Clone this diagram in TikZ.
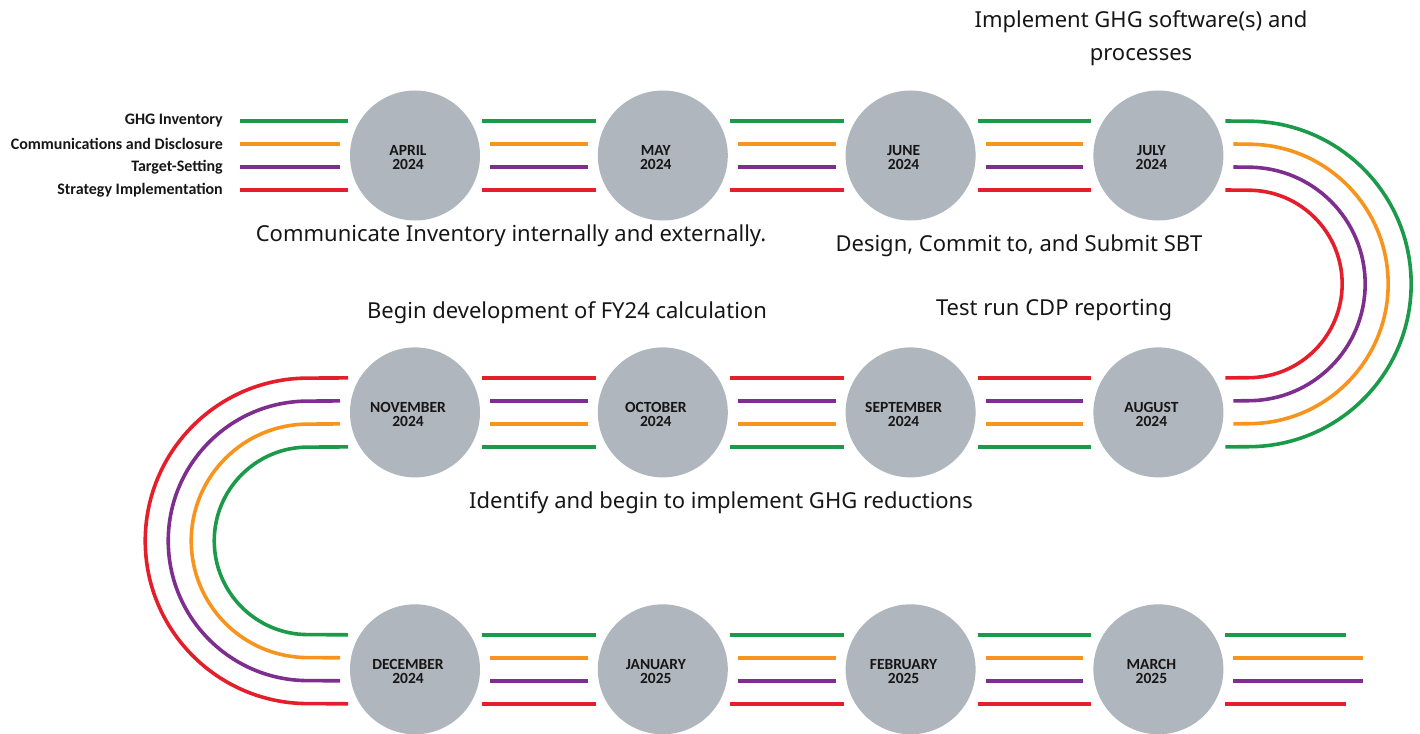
\documentclass[tikz,border=0pt]{standalone}
\usepackage{fontspec}
\setmainfont{Noto Sans}
\newfontfamily\keyfont{Carlito}
\usetikzlibrary{positioning,calc}
\definecolor{ink}{HTML}{161616}
\definecolor{monthgrey}{HTML}{AFB6BE}
\definecolor{ghggreen}{HTML}{1B9A4A}
\definecolor{commorange}{HTML}{F7941E}
\definecolor{targetpurple}{HTML}{7D2E8E}
\definecolor{stratred}{HTML}{E41E2B}

\begin{document}
\begin{tikzpicture}[x=1pt,y=1pt,node distance=126.5pt and 117.4pt,
 mon/.style={circle,fill=monthgrey,minimum size=130pt,inner sep=0pt},
 montxt/.style={align=center,xshift=-7pt,yshift=-2pt,text=ink,font=\keyfont\bfseries\fontsize{15.5}{14.5}\selectfont},
 key/.style={anchor=east,inner sep=0pt,text=ink,font=\keyfont\bfseries\fontsize{16}{18}\selectfont},
 note/.style={inner sep=0pt,align=center,text=ink,font=\fontsize{22}{33}\selectfont},
 lane/.style={line width=3.6pt}]
 \useasboundingbox (0,0) rectangle (1420,-733);

 % month circles, snaking right - left - right
 \node[mon,label={[montxt]center:APRIL\\2024}] (apr) at (415,-155.5) {};
 \node[mon,right=of apr,label={[montxt]center:MAY\\2024}] (may) {};
 \node[mon,right=of may,label={[montxt]center:JUNE\\2024}] (jun) {};
 \node[mon,right=of jun,label={[montxt]center:JULY\\2024}] (jul) {};
 \node[mon,below=of jul,label={[montxt]center:AUGUST\\2024}] (aug) {};
 \node[mon,left=of aug,label={[montxt]center:SEPTEMBER\\2024}] (sep) {};
 \node[mon,left=of sep,label={[montxt]center:OCTOBER\\2024}] (oct) {};
 \node[mon,left=of oct,label={[montxt]center:NOVEMBER\\2024}] (nov) {};
 \node[mon,below=of nov,label={[montxt]center:DECEMBER\\2024}] (dec) {};
 \node[mon,right=of dec,label={[montxt]center:JANUARY\\2025}] (jan) {};
 \node[mon,right=of jan,label={[montxt]center:FEBRUARY\\2025}] (feb) {};
 \node[mon,right=of feb,label={[montxt]center:MARCH\\2025}] (mar) {};

 % centres of the two U-turns
 \coordinate (rturn) at ($(jul.center)!0.5!(aug.center)+(90,0)$);
 \coordinate (lturn) at ($(nov.center)!0.5!(dec.center)+(-107,0)$);

 % one lane per workstream
 \foreach \col/\off/\gap/\tail/\txt [count=\i] in {
   ghggreen/34.5/2/121/GHG Inventory,
   commorange/11.5/10/130/Communications and Disclosure,
   targetpurple/-11.5/10/130/Target-Setting,
   stratred/-34.5/2/121/Strategy Implementation}{
  \node[key] (key\i) at ($(apr.center)+(-192,\off)$) {\txt};
  \draw[lane,\col] ($(key\i.east)+(17,0)$) -- ($(apr.center)+(-65-\gap,\off)$);
  \foreach \a/\b in {apr/may,may/jun,jun/jul,dec/jan,jan/feb,feb/mar}
   \draw[lane,\col] ($(\a.center)+(65+\gap,\off)$) -- ($(\b.center)+(-65-\gap,\off)$);
  \foreach \a/\b in {nov/oct,oct/sep,sep/aug}
   \draw[lane,\col] ($(\a.center)+(65+\gap,0)-(0,\off)$) -- ($(\b.center)+(-65-\gap,0)-(0,\off)$);
  \draw[lane,\col] ($(jul.center)+(65+\gap,\off)$) -- ($(rturn)+(0,{128.25+(\off)})$)
   arc[start angle=90,end angle=-90,radius={128.25+(\off)}] -- ($(aug.center)+(65+\gap,0)-(0,\off)$);
  \draw[lane,\col] ($(nov.center)+(-65-\gap,0)-(0,\off)$) -- ($(lturn)+(0,{128.25-(\off)})$)
   arc[start angle=90,end angle=270,radius={128.25-(\off)}] -- ($(dec.center)+(-65-\gap,\off)$);
  \draw[lane,\col] ($(mar.center)+(65+\gap,\off)$) -- ++(\tail,0);
 }

 % milestones
 \node[note,anchor=north] (software) at (1141,-10.5) {Implement GHG software(s) and\\processes};
 \node[note,anchor=base] (commun) at (511,-241) {Communicate Inventory internally and externally.};
 \node[note,anchor=base] (sbt) at (1019,-251) {Design, Commit to, and Submit SBT};
 \node[note,anchor=base] (fycalc) at (567,-318) {Begin development of FY24 calculation};
 \node[note,anchor=base] (cdp) at (1054,-315) {Test run CDP reporting};
 \node[note,anchor=base] (reduce) at (721,-508) {Identify and begin to implement GHG reductions};
\end{tikzpicture}
\end{document}
